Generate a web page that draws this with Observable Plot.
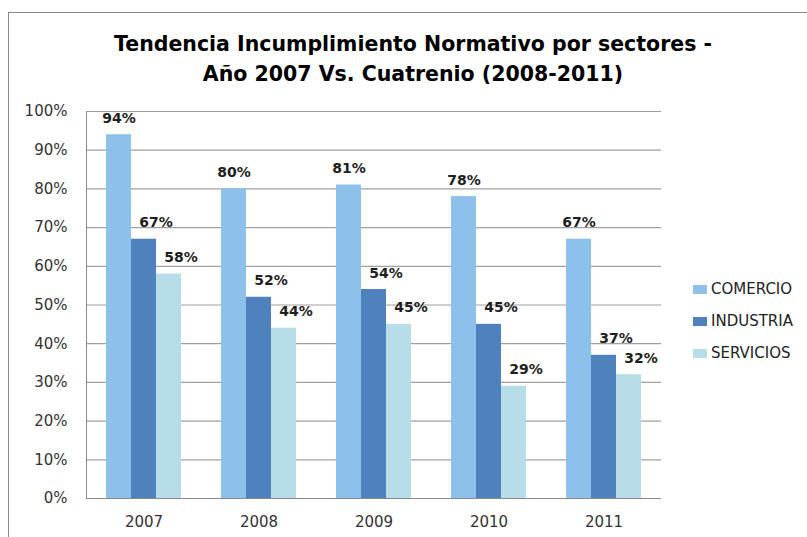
<!DOCTYPE html>
<html>
<head>
<meta charset="utf-8">
<script src="https://cdn.jsdelivr.net/npm/d3@7"></script>
<script src="https://cdn.jsdelivr.net/npm/@observablehq/plot@0.6"></script>
<style>
  html, body { margin: 0; padding: 0; background: #fff; overflow: hidden; }
  body { width: 807px; height: 537px; position: relative; font-family: "DejaVu Sans", sans-serif; }
  #frame { position: absolute; left: 8px; top: 12px; width: 900px; height: 700px;
           border-left: 1px solid #8a8a8a; border-top: 1px solid #8a8a8a; }
  #title { position: absolute; left: 0; top: 29px; width: 826px; text-align: center;
           font-weight: bold; font-size: 20.5px; line-height: 30px; color: #000; }
  #chart { position: absolute; left: 0; top: 95px; }
  #legend { position: absolute; left: 693px; top: 273px; font-size: 15px; color: #222; }
  #legend .row { height: 32px; display: flex; align-items: center; }
  #legend .sw { width: 14px; height: 9px; margin-right: 4px; }
</style>
</head>
<body>
<div id="frame"></div>
<div id="title">Tendencia Incumplimiento Normativo por sectores -<br>Año 2007 Vs. Cuatrenio (2008-2011)</div>
<div id="chart"></div>
<div id="legend"></div>
<script>
const years = ["2007", "2008", "2009", "2010", "2011"];
const sectors = ["COMERCIO", "INDUSTRIA", "SERVICIOS"];
const comercio  = [0.94, 0.80, 0.81, 0.78, 0.67];
const industria = [0.67, 0.52, 0.54, 0.45, 0.37];
const servicios = [0.58, 0.44, 0.45, 0.29, 0.32];
const colors = ["#8DC0EA", "#4F81BD", "#B7DDE8"];
const yTicks = [0, 0.1, 0.2, 0.3, 0.4, 0.5, 0.6, 0.7, 0.8, 0.9, 1.0];
const yTickLabels = ["0%", "10%", "20%", "30%", "40%", "50%", "60%", "70%", "80%", "90%", "100%"];

const series = [comercio, industria, servicios];
const data = years.flatMap((yr, i) => sectors.map((s, j) => ({year: yr, sector: s, value: series[j][i]})));
const pct = d => Math.round(d.value * 100) + "%";

const chart = Plot.plot({
  width: 807,
  height: 442,
  marginTop: 16,
  marginBottom: 39,
  marginLeft: 85,
  marginRight: 145,
  style: {fontFamily: "DejaVu Sans, sans-serif", fontSize: "15px", color: "#333", background: "transparent"},
  fx: {domain: years, padding: 0, axis: "bottom", tickSize: 0, tickPadding: 18, label: null},
  x: {domain: sectors, paddingInner: 0, paddingOuter: 0.76, axis: null},
  y: {domain: [0, 1], ticks: yTicks, tickFormat: v => yTickLabels[yTicks.indexOf(v)] ?? "", tickSize: 0, tickPadding: 19, label: null},
  color: {domain: sectors, range: colors},
  marks: [
    Plot.ruleY(yTicks, {stroke: "#a0a0a0", strokeWidth: 1.2}),
    Plot.barY(data, {fx: "year", x: "sector", y: "value", fill: "sector"}),
    Plot.ruleY([0], {stroke: "#8a8a8a"}),
    Plot.frame({anchor: "left", stroke: "#8a8a8a", facetAnchor: "left"}),
    Plot.text(data, {filter: d => d.sector === "COMERCIO", fx: "year", x: "sector", y: "value", text: pct,
      lineAnchor: "bottom", dy: -12, fontWeight: "bold", fontSize: 14, fill: "#1e1e1e"}),
    Plot.text(data, {filter: d => d.sector !== "COMERCIO", fx: "year", x: "sector", y: "value", text: pct,
      lineAnchor: "bottom", dy: -12, dx: 12, fontWeight: "bold", fontSize: 14, fill: "#1e1e1e"})
  ]
});
document.getElementById("chart").appendChild(chart);

const legend = document.getElementById("legend");
sectors.forEach((s, j) => {
  const row = document.createElement("div");
  row.className = "row";
  const sw = document.createElement("div");
  sw.className = "sw";
  sw.style.background = colors[j];
  const t = document.createElement("span");
  t.textContent = s;
  row.appendChild(sw);
  row.appendChild(t);
  legend.appendChild(row);
});
</script>
</body>
</html>
